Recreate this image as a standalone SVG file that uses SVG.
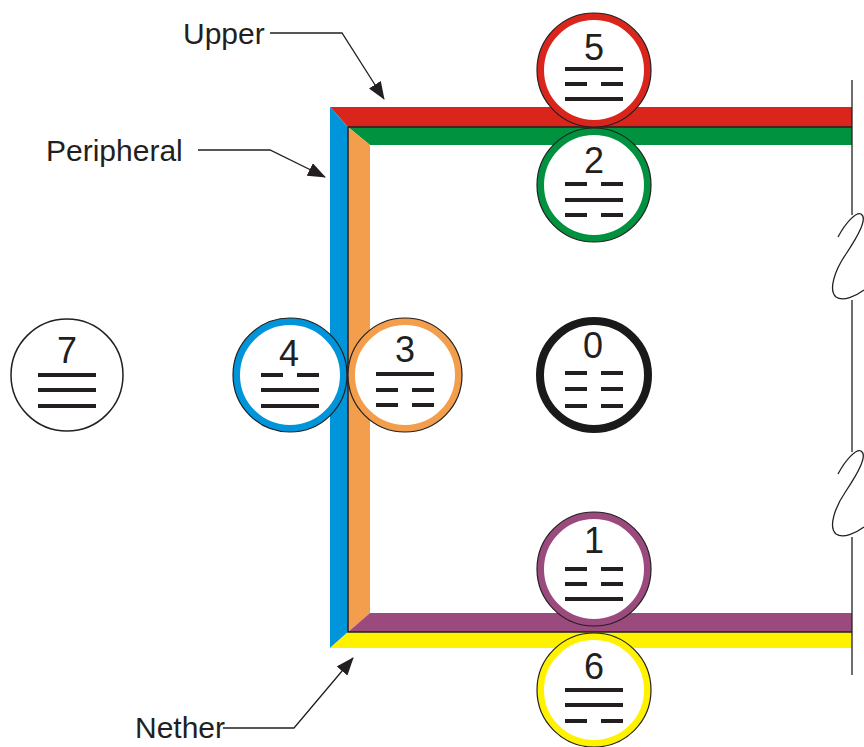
<svg xmlns="http://www.w3.org/2000/svg" width="864" height="747" viewBox="0 0 864 747">
<style>
.lbl{font-family:"Liberation Sans",Arial,sans-serif;font-size:30px;fill:#231f20}
.dig{font-family:"Liberation Sans",Arial,sans-serif;font-size:36px;fill:#231f20;text-anchor:middle}
.bar{stroke:#231f20;stroke-width:4;fill:none}
.out{fill:none;stroke:#231f20;stroke-width:1.2}
.lead{fill:none;stroke:#231f20;stroke-width:1.3}
.edge{fill:none;stroke:#231f20;stroke-width:1.3}
</style>
<defs>
<marker id="ah" markerUnits="userSpaceOnUse" markerWidth="18" markerHeight="14" refX="17" refY="7" orient="auto">
<path d="M0,0 L18,7 L0,14 Z" fill="#231f20"/>
</marker>
</defs>
<rect width="864" height="747" fill="#fff"/>
<g id="frame">
<polygon points="330,107 852,107 852,127 348,127" fill="#da251d"/>
<polygon points="348,127 852,127 852,145 370,145" fill="#00923f"/>
<polygon points="330,107 348,127 348,632 330,648" fill="#0095da"/>
<polygon points="348,127 370,145 370,613 348,632" fill="#f29e4c"/>
<polygon points="348,632 370,613 852,613 852,632" fill="#9b4a7d"/>
<polygon points="330,648 348,632 852,632 852,648" fill="#fff200"/>
<polyline points="852,127 348,127 348,632 852,632" fill="none" stroke="#231f20" stroke-width="1.5"/>
</g>
<g id="right-edge">
<path class="edge" d="M852,80 V215"/>
<path class="edge" d="M838,237 C846,222 856,212 861,214 C868,218 858,236 846,254 C835,270 828,290 836,297 C843,302 856,296 864,290"/>
<path class="edge" d="M852,300 V452"/>
<path class="edge" d="M838,474 C846,459 856,449 861,451 C868,455 858,473 846,491 C835,507 828,527 836,534 C843,539 856,533 864,527"/>
<path class="edge" d="M852,537 V675"/>
</g>
<g id="connectors">
<polyline class="lead" points="270,33 342,33 384,99" marker-end="url(#ah)"/>
<polyline class="lead" points="198,150 270,150 325,177" marker-end="url(#ah)"/>
<polyline class="lead" points="223,728 294,728 353,658" marker-end="url(#ah)"/>
</g>
<g id="label-upper"><text class="lbl" x="183" y="44">Upper</text></g>
<g id="label-peripheral"><text class="lbl" x="46" y="161">Peripheral</text></g>
<g id="label-nether"><text class="lbl" x="135" y="738">Nether</text></g>

<g id="node-5">
<circle cx="594" cy="70" r="53.5" fill="#fff" stroke="#da251d" stroke-width="7"/>
<circle class="out" cx="594" cy="70" r="57"/>
<text class="dig" x="594" y="60">5</text>
<path class="bar" d="M565,69 H623 M565,84 H587 M601,84 H623 M565,99 H623"/>
</g>
<g id="node-2">
<circle cx="594" cy="185" r="53.5" fill="#fff" stroke="#00923f" stroke-width="7"/>
<circle class="out" cx="594" cy="185" r="57"/>
<text class="dig" x="594" y="173">2</text>
<path class="bar" d="M565,184 H587 M601,184 H623 M565,200 H623 M565,215 H587 M601,215 H623"/>
</g>
<g id="node-7">
<circle cx="67" cy="375" r="56" fill="#fff" stroke="#231f20" stroke-width="1.5"/>
<text class="dig" x="67" y="363">7</text>
<path class="bar" d="M38,375 H96 M38,390 H96 M38,406 H96"/>
</g>
<g id="node-4">
<circle cx="290" cy="375" r="53.5" fill="#fff" stroke="#0095da" stroke-width="7"/>
<circle class="out" cx="290" cy="375" r="57"/>
<text class="dig" x="289" y="366">4</text>
<path class="bar" d="M261,375 H283 M297,375 H319 M261,390 H319 M261,406 H319"/>
</g>
<g id="node-3">
<circle cx="405" cy="375" r="53.5" fill="#fff" stroke="#f29e4c" stroke-width="7"/>
<circle class="out" cx="405" cy="375" r="57"/>
<text class="dig" x="405" y="362">3</text>
<path class="bar" d="M376,374 H434 M376,390 H398 M412,390 H434 M376,405 H398 M412,405 H434"/>
</g>
<g id="node-0">
<circle cx="594" cy="375" r="54" fill="#fff" stroke="#1a1a1a" stroke-width="8"/>
<text class="dig" x="593" y="358">0</text>
<path class="bar" d="M565,373 H587 M601,373 H623 M565,389 H587 M601,389 H623 M565,406 H587 M601,406 H623"/>
</g>
<g id="node-1">
<circle cx="594" cy="569" r="53.5" fill="#fff" stroke="#9b4a7d" stroke-width="7"/>
<circle class="out" cx="594" cy="569" r="57"/>
<text class="dig" x="594" y="553">1</text>
<path class="bar" d="M565,569 H587 M601,569 H623 M565,584 H587 M601,584 H623 M565,599 H623"/>
</g>
<g id="node-6">
<circle cx="594" cy="690" r="53.5" fill="#fff" stroke="#fff200" stroke-width="7"/>
<circle class="out" cx="594" cy="690" r="57"/>
<text class="dig" x="594" y="679">6</text>
<path class="bar" d="M565,690 H623 M565,705 H623 M565,721 H587 M601,721 H623"/>
</g>
</svg>
